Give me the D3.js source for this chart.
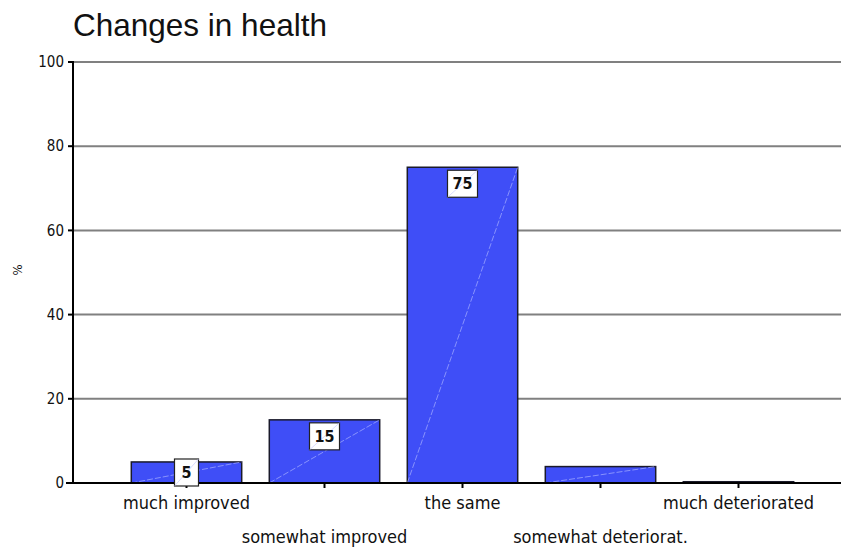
<!DOCTYPE html>
<html>
<head>
<meta charset="utf-8">
<script src="https://cdn.jsdelivr.net/npm/d3@7"></script>
<style>
  body { margin: 0; background: #fff; }
  svg { display: block; }
  .narrow { font-family: 'DejaVu Sans Condensed', 'DejaVu Sans', sans-serif; font-stretch: condensed; }
</style>
</head>
<body>
<div id="chart"></div>
<script>
// data
var categories = ["much improved", "somewhat improved", "the same", "somewhat deteriorat.", "much deteriorated"];
var values = [5, 15, 75, 3.9, 0.3];
var labels = ["5", "15", "75", "", ""];
var yTicks = [0, 20, 40, 60, 80, 100];

var W = 841, H = 547;

var svg = d3.select("#chart").append("svg")
    .attr("width", W)
    .attr("height", H);

// scales
var x = d3.scaleBand().domain(categories).range([117.5, 807.5]).paddingInner(0.2).paddingOuter(0.1);
var y = d3.scaleLinear().domain([0, 100]).range([483, 62]);

// title
svg.append("text")
    .attr("x", 73).attr("y", 36)
    .attr("font-family", "'Liberation Sans', Arial, sans-serif")
    .attr("font-size", 31.5)
    .attr("fill", "#111")
    .text("Changes in health");

// gridlines
svg.append("g").selectAll("line")
    .data(yTicks.filter(function(d) { return d > 0; }))
  .enter().append("line")
    .attr("x1", 73).attr("x2", W)
    .attr("y1", function(d) { return y(d); })
    .attr("y2", function(d) { return y(d); })
    .attr("stroke", "#808080")
    .attr("stroke-width", 2);

// bars
var bars = svg.append("g").selectAll("g")
    .data(values)
  .enter().append("g");

bars.append("rect")
    .attr("x", function(d, i) { return x(categories[i]); })
    .attr("y", function(d) { return y(d); })
    .attr("width", x.bandwidth())
    .attr("height", function(d) { return y(0) - y(d); })
    .attr("fill", "#3f4ef7")
    .attr("stroke", "#1a1a2a")
    .attr("stroke-width", 1.5);

// faint diagonal artefact across each bar
bars.filter(function(d) { return d > 1; }).append("line")
    .attr("x1", function(d) { return x(categories[values.indexOf(d)]); })
    .attr("y1", y(0))
    .attr("x2", function(d) { return x(categories[values.indexOf(d)]) + x.bandwidth(); })
    .attr("y2", function(d) { return y(d); })
    .attr("stroke", "#a8b0ff")
    .attr("stroke-width", 0.7)
    .attr("stroke-dasharray", "6,2");

// x axis
svg.append("line")
    .attr("x1", 66).attr("x2", W)
    .attr("y1", y(0)).attr("y2", y(0))
    .attr("stroke", "#000").attr("stroke-width", 2);

svg.append("g").selectAll("line")
    .data(categories)
  .enter().append("line")
    .attr("x1", function(d) { return x(d) + x.bandwidth() / 2; })
    .attr("x2", function(d) { return x(d) + x.bandwidth() / 2; })
    .attr("y1", y(0)).attr("y2", y(0) + 5)
    .attr("stroke", "#000").attr("stroke-width", 2);

svg.append("g").selectAll("text")
    .data(categories)
  .enter().append("text")
    .attr("class", "narrow")
    .attr("x", function(d) { return x(d) + x.bandwidth() / 2; })
    .attr("y", function(d, i) { return i % 2 === 0 ? 509 : 543; })
    .attr("text-anchor", "middle")
    .attr("font-size", 18)
    .attr("fill", "#111")
    .text(function(d) { return d; });

// y axis
svg.append("line")
    .attr("x1", 73).attr("x2", 73)
    .attr("y1", y(100) - 1).attr("y2", y(0))
    .attr("stroke", "#000").attr("stroke-width", 2);

svg.append("g").selectAll("line")
    .data(yTicks)
  .enter().append("line")
    .attr("x1", 68).attr("x2", 73)
    .attr("y1", function(d) { return y(d); })
    .attr("y2", function(d) { return y(d); })
    .attr("stroke", "#000").attr("stroke-width", 2);

svg.append("g").selectAll("text")
    .data(yTicks)
  .enter().append("text")
    .attr("class", "narrow")
    .attr("x", 64)
    .attr("y", function(d) { return y(d); })
    .attr("dy", "0.35em")
    .attr("text-anchor", "end")
    .attr("font-size", 15)
    .attr("fill", "#111")
    .text(function(d) { return d; });

svg.append("text")
    .attr("class", "narrow")
    .attr("transform", "translate(22,270)rotate(-90)")
    .attr("text-anchor", "middle")
    .attr("font-size", 13)
    .attr("fill", "#111")
    .text("%");

// value label boxes
var lab = svg.append("g").selectAll("g")
    .data(values.map(function(v, i) { return {v: v, c: categories[i], t: labels[i]}; })
        .filter(function(d) { return d.t !== ""; }))
  .enter().append("g")
    .attr("transform", function(d) {
        var w = d.t.length > 1 ? 30 : 24;
        var top = Math.min(y(d.v) + 3, y(0) + 3 - 27);
        return "translate(" + (x(d.c) + x.bandwidth() / 2 - w / 2) + "," + top + ")";
    });

lab.append("rect")
    .attr("width", function(d) { return d.t.length > 1 ? 30 : 24; })
    .attr("height", 27)
    .attr("fill", "#fff")
    .attr("stroke", "#222")
    .attr("stroke-width", 1.2);

lab.append("line")
    .attr("x1", 0).attr("y1", 27)
    .attr("x2", function(d) { return d.t.length > 1 ? 30 : 24; }).attr("y2", 0)
    .attr("stroke", "#c8ccff").attr("stroke-width", 0.7);

lab.append("text")
    .attr("class", "narrow")
    .attr("x", function(d) { return d.t.length > 1 ? 15 : 12; })
    .attr("y", 19)
    .attr("text-anchor", "middle")
    .attr("font-size", 16)
    .attr("font-weight", "bold")
    .attr("fill", "#111")
    .text(function(d) { return d.t; });
</script>
</body>
</html>
